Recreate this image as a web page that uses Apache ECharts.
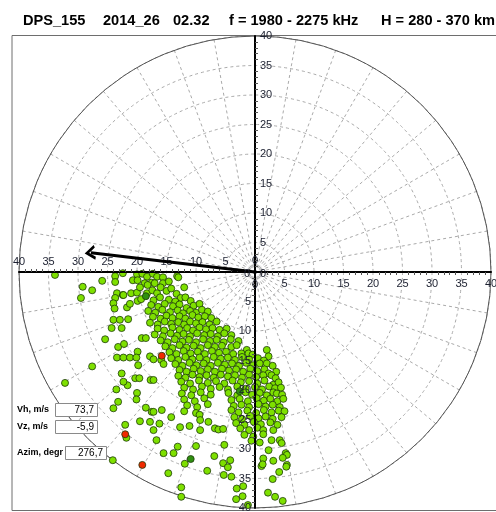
<!DOCTYPE html>
<html>
<head>
<meta charset="utf-8">
<script src="https://cdn.jsdelivr.net/npm/echarts@6/dist/echarts.min.js"></script>
<style>
  html, body { margin: 0; padding: 0; background: #fff; }
  #chart { width: 496px; height: 512px; }
</style>
</head>
<body>
<div id="chart"></div>
<script>
// header texts
const headerParts = ['DPS_155', '2014_26', '02.32', 'f = 1980 - 2275 kHz', 'H = 280 - 370 km']
const headerX = [23, 103, 173, 229, 381]

// radius axis (velocity) settings
const radiusMax = 40
const radiusStep = 5

// info panel
const infoLabels = ['Vh, m/s', 'Vz, m/s', 'Azim, degr']
const infoValues = ['73,7', '-5,9', '276,7']

// mean drift vector: [length on radius scale, azimuth deg]
const driftLen = 28
const driftAzim = 276.7

// sky map sources: [east, north] in radius units
const greenPts = [
  [-33.9,-0.5],[-23.7,-0.7],[-20.0,-0.4],[-19.1,-0.3],[-18.3,-0.8],[-17.3,-0.3],[-16.6,-0.8],[-15.6,-0.9],[-13.2,-0.7],[-22.4,-0.2],
  [-25.9,-1.5],[-23.7,-1.7],[-20.7,-1.4],[-19.9,-1.4],[-18.7,-1.9],[-17.5,-1.8],[-17.0,-1.9],[-15.6,-1.9],[-14.6,-1.6],[-13.0,-0.9],
  [-29.2,-2.5],[-27.6,-3.1],[-23.4,-3.6],[-22.4,-3.9],[-21.0,-3.6],[-20.0,-3.5],[-18.3,-3.6],[-17.4,-3.1],[-16.6,-3.6],[-15.0,-3.2],
  [-13.3,-3.7],[-12.6,-4.4],[-19.5,-2.6],[-18.2,-2.2],[-16.0,-2.6],[-14.2,-2.8],[-12.0,-2.6],
  [-29.5,-4.4],[-23.7,-4.4],[-22.3,-3.9],[-19.9,-4.9],[-19.3,-4.6],[-17.2,-4.8],[-16.1,-4.3],[-14.6,-4.7],[-13.5,-5.0],[-11.8,-4.3],[-10.9,-4.9],
  [-24.0,-5.3],[-23.8,-6.2],[-21.7,-6.0],[-21.2,-5.4],[-17.6,-5.6],[-16.4,-5.9],[-15.3,-5.4],[-13.9,-5.8],[-12.8,-5.5],[-11.6,-6.1],[-10.4,-5.7],[-9.4,-5.4],
  [-18.1,-6.6],[-16.9,-6.9],[-15.7,-6.4],[-14.4,-6.8],[-13.1,-6.5],[-12.2,-7.0],[-11.0,-6.6],[-10.0,-6.9],[-9.0,-6.4],[-8.0,-6.7],
  [-24.0,-8.1],[-22.9,-8.1],[-21.5,-8.0],[-17.3,-7.6],[-16.0,-7.9],[-15.0,-7.4],[-14.0,-7.8],[-12.8,-7.5],[-11.8,-7.9],[-10.6,-7.3],[-9.6,-7.7],[-8.5,-7.5],[-7.4,-7.8],
  [-17.8,-8.6],[-16.5,-8.9],[-15.3,-8.4],[-14.2,-8.8],[-13.0,-8.5],[-12.0,-8.9],[-11.0,-8.4],[-10.0,-8.7],[-8.9,-8.5],[-7.7,-8.9],[-6.5,-8.4],
  [-24.3,-9.5],[-22.6,-9.5],[-16.5,-9.6],[-15.4,-9.9],[-14.0,-9.4],[-12.8,-9.8],[-11.5,-9.5],[-10.5,-9.9],[-9.4,-9.4],[-8.3,-9.7],[-7.2,-9.5],[-6.0,-9.8],[-4.8,-9.6],
  [-17.0,-10.6],[-15.6,-10.9],[-14.3,-10.4],[-13.2,-10.8],[-12.1,-10.5],[-11.0,-10.9],[-9.8,-10.4],[-8.6,-10.7],[-7.5,-10.5],[-6.3,-10.9],[-5.2,-10.4],[-4.0,-10.7],
  [-25.4,-11.4],[-19.2,-11.2],[-18.5,-11.2],[-16.0,-11.6],[-14.8,-11.9],[-13.6,-11.4],[-12.3,-11.8],[-11.2,-11.5],[-10.0,-11.9],[-8.8,-11.4],[-7.6,-11.7],[-6.5,-11.5],[-5.3,-11.9],[-4.1,-11.4],[-2.8,-11.7],
  [-23.2,-12.7],[-22.2,-12.2],[-15.2,-12.6],[-14.0,-12.9],[-12.8,-12.4],[-11.6,-12.8],[-10.4,-12.5],[-9.2,-12.9],[-8.0,-12.4],[-6.8,-12.7],[-5.6,-12.5],[-4.0,-12.7],[-3.1,-12.4],[-1.4,-13.2],[2.0,-13.2],
  [-19.9,-13.5],[-14.5,-13.6],[-13.3,-13.9],[-12.1,-13.4],[-10.9,-13.8],[-9.7,-13.5],[-8.5,-13.9],[-7.3,-13.4],[-6.1,-13.7],[-4.9,-13.5],[-3.7,-13.9],[-2.3,-13.8],[-1.1,-13.8],[-0.4,-14.0],[2.3,-14.3],
  [-23.4,-14.5],[-22.3,-14.5],[-21.2,-14.5],[-20.1,-14.5],[-17.8,-14.3],[-17.2,-14.8],[-15.9,-14.9],[-14.2,-14.6],[-13.0,-14.9],[-11.8,-14.4],[-10.6,-14.8],
  [-9.4,-14.5],[-8.2,-14.9],[-7.0,-14.4],[-5.8,-14.7],[-4.6,-14.5],[-3.4,-14.9],[-2.2,-14.4],[-1.0,-14.8],[0.5,-14.6],[1.5,-15.0],
  [-19.8,-15.8],[-15.5,-15.6],[-13.5,-15.6],[-12.3,-15.9],[-11.1,-15.4],[-9.9,-15.8],[-8.7,-15.5],[-7.5,-15.9],[-6.3,-15.4],[-5.1,-15.7],[-3.9,-15.5],
  [-2.7,-15.9],[-1.5,-15.4],[-0.3,-15.8],[0.8,-15.5],[2.0,-15.5],[3.0,-15.9],
  [-27.6,-16.0],[-12.8,-16.6],[-11.6,-16.9],[-10.4,-16.4],[-9.2,-16.8],[-8.0,-16.5],[-6.8,-16.9],[-5.6,-16.4],[-4.4,-16.7],[-3.2,-16.5],[-2.0,-16.9],
  [-0.8,-16.4],[0.4,-16.8],[1.6,-16.5],[2.3,-17.2],[3.6,-16.9],
  [-22.6,-17.2],[-13.0,-17.6],[-11.8,-17.9],[-10.6,-17.4],[-9.4,-17.8],[-8.2,-17.5],[-7.0,-17.9],[-5.8,-17.4],[-4.6,-17.7],[-3.4,-17.5],[-2.2,-17.9],
  [-1.0,-17.4],[0.2,-17.8],[1.4,-17.5],[2.8,-17.5],[3.5,-18.0],
  [-32.2,-18.8],[-21.6,-19.2],[-20.0,-20.5],
  [-22.3,-18.6],[-20.3,-18.0],[-19.6,-18.0],[-17.7,-18.3],[-17.2,-18.3],[-12.5,-18.6],[-11.0,-18.9],[-9.5,-18.4],[-8.0,-18.8],[-6.6,-18.5],[-5.2,-18.9],
  [-3.8,-18.4],[-2.4,-18.7],[-1.0,-18.5],[0.4,-18.9],[1.6,-18.4],[3.1,-19.1],[4.0,-18.7],
  [-23.5,-19.9],[-12.0,-19.6],[-10.5,-19.9],[-9.0,-19.4],[-7.5,-19.8],[-6.0,-19.5],[-4.6,-19.9],[-3.0,-19.4],[-1.6,-19.8],[0.0,-19.5],[1.2,-19.9],
  [2.4,-19.4],[3.4,-19.7],[4.4,-19.6],
  [-12.4,-20.6],[-10.8,-20.9],[-9.2,-20.4],[-7.5,-20.8],[-4.5,-20.5],[-3.0,-20.9],[-1.6,-20.4],[-0.5,-20.8],[0.8,-20.5],[2.0,-20.9],[3.1,-20.4],[3.7,-20.6],[4.6,-20.8],
  [-23.2,-22.0],[-20.1,-21.6],[-12.0,-21.6],[-10.2,-21.9],[-8.6,-21.4],[-4.0,-21.7],[-2.6,-21.5],[-1.2,-21.9],[0.3,-21.4],[1.5,-21.8],[2.6,-21.5],[3.8,-21.9],[4.8,-21.5],
  [-11.5,-22.6],[-9.8,-22.9],[-8.0,-22.4],[-3.6,-22.7],[-2.3,-22.5],[-1.0,-22.9],[0.6,-22.4],[1.8,-22.8],[3.0,-22.5],[4.2,-22.9],
  [-24.0,-23.1],[-18.5,-23.0],[-17.5,-23.7],[-17.2,-23.7],[-15.8,-23.4],[-12.0,-23.6],[-10.0,-23.9],[-4.0,-23.4],[-2.8,-23.8],[-1.3,-23.5],[0.2,-23.9],
  [1.5,-23.4],[2.8,-23.8],[4.0,-23.5],[5.0,-23.6],
  [-14.2,-24.6],[-9.4,-24.2],[-9.3,-25.1],[-3.5,-24.6],[-2.2,-24.9],[-0.8,-24.4],[0.6,-24.8],[1.8,-24.5],[3.0,-24.9],[4.5,-24.6],
  [-19.5,-25.3],[-17.8,-25.4],[-16.2,-25.7],[-7.9,-25.4],[-3.2,-25.6],[-1.8,-25.9],[-0.2,-25.4],[1.0,-25.8],[2.6,-25.5],[3.8,-25.9],
  [-22.0,-25.9],[-12.7,-26.3],[-11.1,-26.1],[-9.3,-26.8],[-6.8,-26.5],[-6.2,-26.7],[-5.4,-26.6],[-17.2,-26.8],[-2.5,-26.5],[-1.0,-26.8],[0.4,-26.4],[1.4,-26.8],[3.1,-26.8],
  [-1.8,-27.6],[-0.3,-27.9],[1.4,-27.5],[-21.8,-28.1],[-16.7,-28.5],[2.8,-28.5],[4.2,-28.5],[-0.6,-28.6],[0.8,-28.9],
  [-13.1,-29.6],[-10.0,-29.5],[-5.2,-29.3],[4.5,-29.0],[2.3,-30.2],
  [-15.5,-30.7],[-13.8,-30.7],[5.2,-30.7],[5.4,-31.0],
  [-24.1,-31.9],[-6.9,-31.2],[-4.2,-31.9],[4.7,-31.5],[3.1,-32.0],[1.4,-31.6],
  [-11.9,-32.5],[-5.4,-32.4],[-4.6,-33.1],[1.1,-32.9],[1.3,-32.6],[5.4,-32.7],[5.3,-33.0],
  [-8.1,-33.7],[-14.7,-34.1],[-5.3,-34.4],[-4.0,-34.7],[4.1,-33.9],[3.0,-35.1],
  [-12.5,-36.5],[-3.1,-36.7],[-2.0,-36.3],
  [-12.5,-38.1],[-3.2,-38.5],[-2.1,-38.0],[2.2,-37.4],[3.4,-38.1],
  [-1.2,-39.5],[4.7,-38.8]
]
const darkPts = [[-18.5,-4.1],[-10.9,-31.7],[-2.6,-20.2]]
const redPts = [[-15.8,-14.2],[-22.0,-27.5],[-19.1,-32.7]]

const CX = 255
const CY = 272
const R = 236
const FONT = 'Liberation Sans, Arial, sans-serif'

// one extra polar per drawn axis direction (startAngle: up, left, right, down)
// zx / zy: where that axis puts its own "0", relative to the centre
const axisDirs = [
  { start: 90, margin: -5, align: 'left', vAlign: 'middle', zx: 0, zy: -11 },
  { start: 180, margin: -5, align: 'center', vAlign: 'bottom', zx: -8, zy: 2 },
  { start: 0, margin: -6, align: 'center', vAlign: 'top', zx: 8, zy: 2 },
  { start: 270, margin: -4, align: 'right', vAlign: 'middle', zx: 0, zy: 13 }
]

const chart = echarts.init(document.getElementById('chart'))

const polars = [{ center: [CX, CY], radius: R }]
const angleAxes = [{
  polarIndex: 0,
  type: 'value',
  min: 0,
  max: 360,
  interval: 10,
  startAngle: 90,
  clockwise: true,
  axisLine: { lineStyle: { color: '#555', width: 1 } },
  axisTick: { show: false },
  axisLabel: { show: false },
  splitLine: { lineStyle: { color: '#aaa', width: 1, type: [3, 3] } }
}]
const radiusAxes = [{
  polarIndex: 0,
  type: 'value',
  min: 0,
  max: radiusMax,
  interval: radiusStep,
  axisLine: { show: false },
  axisTick: { show: false },
  axisLabel: { show: false },
  splitLine: { lineStyle: { color: '#aaa', width: 1, type: [3, 3] } }
}]
const graphics = [{
  type: 'rect',
  shape: { x: 12, y: 35.5, width: 500, height: 475 },
  style: { fill: 'none', stroke: '#6e6e6e', lineWidth: 1 },
  z: 1
}]
axisDirs.forEach(function(d, i) {
  polars.push({ center: [CX, CY], radius: R })
  angleAxes.push({
    polarIndex: i + 1, type: 'value', min: 0, max: 360, startAngle: d.start, show: false
  })
  radiusAxes.push({
    polarIndex: i + 1,
    type: 'value',
    min: 0,
    max: radiusMax,
    interval: radiusStep,
    z: 5,
    axisLine: { lineStyle: { color: '#000', width: 2 } },
    axisTick: { show: false },
    minorTick: { show: true, splitNumber: 5, length: -3, lineStyle: { color: '#555' } },
    splitLine: { show: false },
    axisLabel: {
      showMinLabel: false,
      margin: d.margin,
      align: d.align,
      verticalAlign: d.vAlign,
      color: '#1c2030',
      fontSize: 11,
      fontFamily: FONT
    }
  })
  graphics.push({
    type: 'text', x: CX + d.zx, y: CY + d.zy, z: 7,
    style: { text: '0', fill: '#1c2030', font: '11px ' + FONT, textAlign: 'center', textVerticalAlign: 'middle' }
  })
})

headerParts.forEach(function(t, i) {
  graphics.push({
    type: 'text', x: headerX[i], y: 21,
    style: { text: t, fill: '#000', font: 'bold 14.6px ' + FONT, textVerticalAlign: 'middle' },
    z: 10
  })
})
const boxes = [
  { lx: 17, ly: 410, bx: 55, by: 403, bw: 42 },
  { lx: 17, ly: 427, bx: 55, by: 420, bw: 42 },
  { lx: 17, ly: 453, bx: 65, by: 446, bw: 41 }
]
boxes.forEach(function(b, i) {
  graphics.push({
    type: 'text', x: b.lx, y: b.ly,
    style: { text: infoLabels[i], fill: '#000', font: 'bold 9px ' + FONT, textVerticalAlign: 'middle' },
    z: 20
  })
  graphics.push({
    type: 'rect', shape: { x: b.bx + 0.5, y: b.by + 0.5, width: b.bw, height: 13 },
    style: { fill: '#fff', stroke: '#8a8a8a', lineWidth: 1 },
    z: 20
  })
  graphics.push({
    type: 'text', x: b.bx + b.bw - 3, y: b.by + 7,
    style: { text: infoValues[i], fill: '#000', font: '10px ' + FONT, textAlign: 'right', textVerticalAlign: 'middle' },
    z: 21
  })
})

const dotStyle = function(color) {
  return { color: color, borderColor: '#1d3a0a', borderWidth: 0.8, opacity: 1 }
}

chart.setOption({
  backgroundColor: '#fff',
  animation: false,
  polar: polars,
  angleAxis: angleAxes,
  radiusAxis: radiusAxes,
  grid: { left: CX - R, top: CY - R, width: 2 * R, height: 2 * R, show: false },
  xAxis: { type: 'value', min: -radiusMax, max: radiusMax, show: false },
  yAxis: { type: 'value', min: -radiusMax, max: radiusMax, show: false },
  graphic: graphics,
  series: [
    {
      type: 'scatter',
      data: greenPts,
      symbolSize: 7,
      itemStyle: dotStyle('#7ee000'),
      z: 3
    },
    {
      type: 'scatter',
      data: darkPts,
      symbolSize: 7,
      itemStyle: dotStyle('#2f8f10'),
      z: 3
    },
    {
      type: 'scatter',
      data: redPts,
      symbolSize: 7,
      itemStyle: dotStyle('#f02a00'),
      z: 3
    },
    {
      type: 'line',
      coordinateSystem: 'polar',
      polarIndex: 0,
      z: 6,
      data: [
        { value: [0, driftAzim], symbol: 'none' },
        {
          value: [driftLen, driftAzim],
          symbol: 'path://M0,10 L5,0 L10,10',
          symbolSize: [12, 8],
          symbolRotate: driftAzim - 180,
          itemStyle: { color: 'none', borderColor: '#000', borderWidth: 2.5 }
        }
      ],
      lineStyle: { color: '#000', width: 3 },
      silent: true
    }
  ]
})
</script>
</body>
</html>
